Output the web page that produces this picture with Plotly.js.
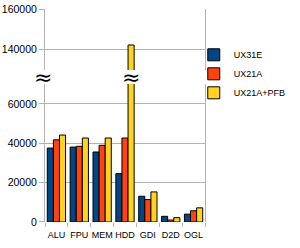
<!DOCTYPE html>
<html><head><meta charset="utf-8">
<script src="https://cdn.plot.ly/plotly-3.0.1.min.js"></script>
<style>html,body{margin:0;padding:0;background:#fff}#c{width:300px;height:248px}</style>
</head><body><div id="c"></div>
<script>
var categories = ['ALU','FPU','MEM','HDD','GDI','D2D','OGL'];
var seriesNames = ['UX31E','UX21A','UX21A+PFB'];
var ux31e = [37600, 38100, 35600, 24600, 13100, 2900, 4000];
var ux21a = [41800, 38500, 39000, 42700, 11400, 1000, 5700];
var ux21aPfb = [44200, 42700, 42700, 142000, 15300, 2200, 7200];
var colors = ['#004586', '#ff420e', '#ffd320'];
var seriesValues = [ux31e, ux21a, ux21aPfb];

var traces = [];
['y','y2'].forEach(function(ax, k){
  seriesValues.forEach(function(vals, i){
    traces.push({
      type:'bar', x:categories, y:vals, name:seriesNames[i],
      xaxis:'x', yaxis:ax, showlegend:k===0,
      marker:{color:colors[i], line:{color:'#000', width:1}},
      hoverinfo:'skip'
    });
  });
});

var grid = '#b3b3b3';
var fam = 'Liberation Sans, Arial, sans-serif';
var yFont = {family:fam, size:10.5, color:'#000'};
var xFont = {family:fam, size:9, color:'#000'};
var yCommon = {
  showgrid:true, gridcolor:grid, gridwidth:1, zeroline:false,
  showline:true, mirror:true, linecolor:grid, linewidth:1,
  ticks:'outside', ticklen:5, tickcolor:grid, tickformat:'d', dtick:20000,
  tickfont:yFont, fixedrange:true
};
var layout = {
  width:300, height:248,
  margin:{l:45, r:89, t:9, b:26},
  paper_bgcolor:'#fff', plot_bgcolor:'#fff',
  barmode:'group', bargap:0.2, bargroupgap:0,
  font:yFont,
  xaxis:{anchor:'y', showgrid:false, zeroline:false, showline:false,
    ticks:'outside', tickson:'boundaries', ticklen:4, tickcolor:grid,
    ticklabelstandoff:6,
    tickangle:0, tickfont:xFont, fixedrange:true},
  yaxis:Object.assign({}, yCommon, {domain:[0, 0.6479], range:[0, 70170]}),
  yaxis2:Object.assign({}, yCommon, {domain:[0.7136, 1], range:[129500, 160000], anchor:'x'}),
  legend:{x:1.536, y:0.853, xanchor:'right', yanchor:'top', font:{family:fam, size:9, color:'#000'},
    bgcolor:'rgba(0,0,0,0)', tracegroupgap:0, itemwidth:30},
  showlegend:true,
  annotations:[
    {xref:'paper', yref:'paper', x:-0.01, y:0.68, text:'≈', showarrow:false,
     font:{family:'DejaVu Sans', size:22, color:'#000'}, xanchor:'center', yanchor:'middle'},
    {xref:'x', yref:'paper', x:'HDD', xshift:6, y:0.68, text:'≈', showarrow:false,
     font:{family:'DejaVu Sans', size:22, color:'#000'}, xanchor:'center', yanchor:'middle'}
  ]
};
Plotly.newPlot('c', traces, layout, {staticPlot:true, displayModeBar:false});
</script></body></html>
